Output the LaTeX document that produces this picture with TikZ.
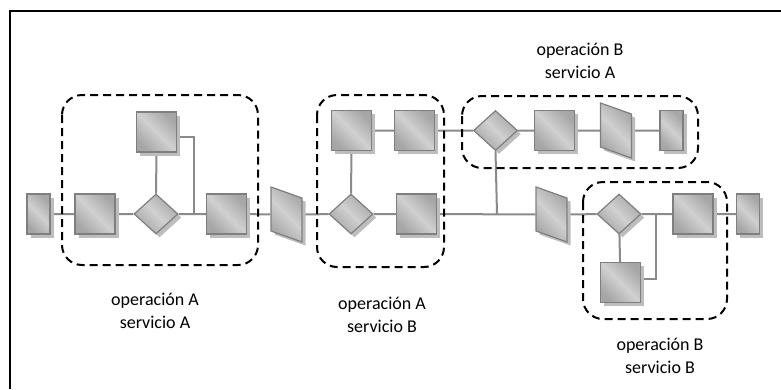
\documentclass[tikz,border=0pt]{standalone}
\usepackage{fontspec}
\setmainfont{Carlito}
\usetikzlibrary{shapes.geometric,shadows,backgrounds}
\definecolor{bord}{HTML}{7F7F7F}
\definecolor{shd}{HTML}{BDBDBD}
\definecolor{darkg}{HTML}{A6A6A6}
\definecolor{lightg}{HTML}{D0D0D0}
\definecolor{conn}{HTML}{8A8A8A}
\begin{document}
\begin{tikzpicture}[x=1pt,y=-1pt,
  shp/.style={draw=bord, line width=1.2pt, inner sep=0pt,
    left color=darkg, right color=darkg, middle color=lightg, shading angle=135,
    general shadow={fill=shd, draw=none, shadow xshift=3.5pt, shadow yshift=-3.5pt}},
  sq/.style={shp, rectangle, minimum width=40pt, minimum height=40pt},
  sm/.style={shp, rectangle, minimum width=23pt, minimum height=40pt},
  dia/.style={shp, diamond, minimum width=44pt, minimum height=40pt},
  para/.style={shp, rectangle, minimum width=31pt, minimum height=44pt, yslant=-0.355},
  wire/.style={draw=conn, line width=2pt},
  grp/.style={draw=black, line width=2pt, dash pattern=on 8pt off 5pt, rounded corners=20pt},
  lbl/.style={align=center, font=\fontsize{18}{23}\selectfont}]
\useasboundingbox (0,0) rectangle (781,389);
\draw[line width=2pt] (10,389) -- (10,11) -- (781,11);
% nodes
\node[sm]  (s0) at (38.5,214) {};
\node[sq]  (a1) at (95,214) {};
\node[dia] (d1) at (156,214) {};
\node[sq]  (a2) at (156.5,132) {};
\node[sq]  (a3) at (226.5,214) {};
\node[para](p1) at (286.5,214.5) {};
\node[dia] (d2) at (351,214) {};
\node[sq]  (b1) at (351.5,130.5) {};
\node[sq]  (b2) at (414.5,130.5) {};
\node[sq]  (b3) at (416.5,214) {};
\node[dia] (d3) at (495.5,130.5) {};
\node[sq]  (c1) at (554.5,130.5) {};
\node[para](p2) at (616,130.5) {};
\node[sm]  (c2) at (671.5,130.5) {};
\node[para](p3) at (551.5,214.5) {};
\node[dia] (d4) at (619,214) {};
\node[sq]  (e1) at (620.5,282.5) {};
\node[sq]  (e2) at (693,214) {};
\node[sm]  (e3) at (748,214) {};
\coordinate (j1) at (194,214);
\coordinate (j2) at (497,214);
\coordinate (j3) at (656,214);
% connectors
\begin{scope}[on background layer]
\draw[wire] (s0) -- (a1) -- (d1) -- (a3) -- (p1) -- (d2) -- (b3) -- (p3) -- (d4) -- (e2) -- (e3);
\draw[wire] (d1) -- (a2);
\draw[wire] ([yshift=-5pt]a2.east) -| (j1);
\draw[wire] (d2) -- (b1);
\draw[wire] (b1) -- (b2) -- (d3) -- (c1) -- (p2) -- (c2);
\draw[wire] (d3.south) -- (j2);
\draw[wire] (d4) -- (e1);
\draw[wire] ([yshift=3.5pt]e1.east) -| (j3);
\end{scope}
% groups
\draw[grp] (62,95) rectangle (258,265);
\draw[grp] (317,95) rectangle (444,267);
\draw[grp] (462,96) rectangle (698,168);
\draw[grp] (583,182) rectangle (727,319);
% labels
\node[lbl] (l1) at (155,311) {operación A\\servicio A};
\node[lbl] (l2) at (382,315) {operación A\\servicio B};
\node[lbl] (l3) at (580,61) {operación B\\servicio A};
\node[lbl] (l4) at (660,356) {operación B\\servicio B};
\end{tikzpicture}
\end{document}
